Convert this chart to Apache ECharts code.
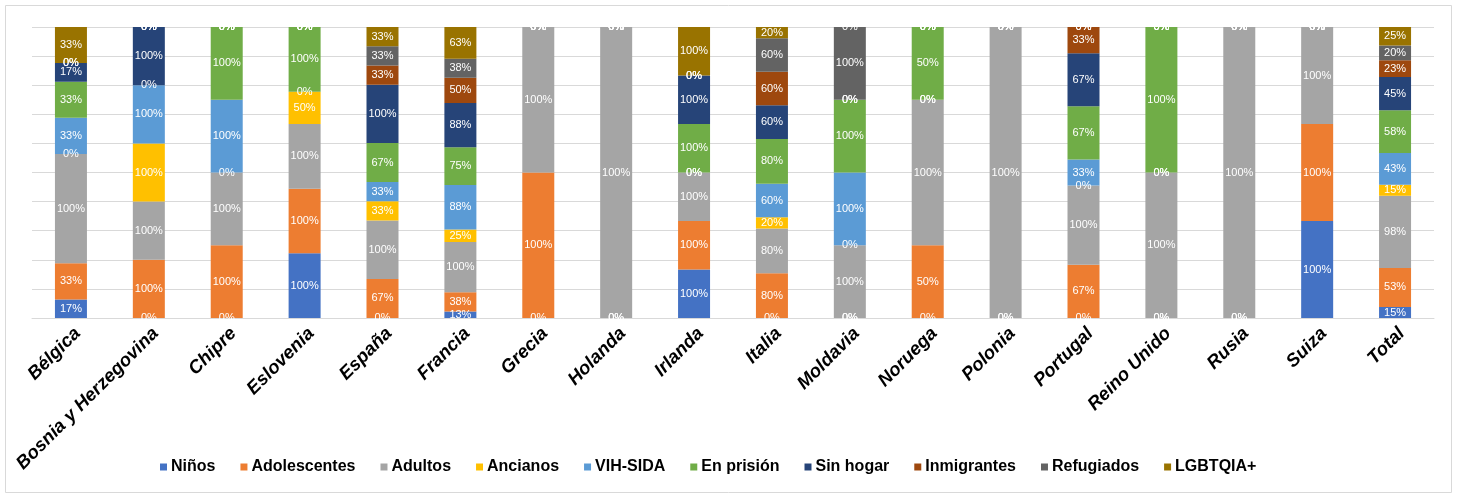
<!DOCTYPE html>
<html>
<head>
<meta charset="utf-8">
<script src="https://cdn.jsdelivr.net/npm/echarts@6/dist/echarts.min.js"></script>
<style>
  html, body { margin: 0; padding: 0; background: #fff; }
  #chart { width: 1461px; height: 498px; }
</style>
</head>
<body>
<div id="chart"></div>
<script>
// Países / categorías
const categories = ['Bélgica', 'Bosnia y Herzegovina', 'Chipre', 'Eslovenia', 'España', 'Francia',
  'Grecia', 'Holanda', 'Irlanda', 'Italia', 'Moldavia', 'Noruega', 'Polonia', 'Portugal',
  'Reino Unido', 'Rusia', 'Suiza', 'Total'];

// Porcentaje de cada grupo por país (valores de las etiquetas)
const ninos        = [17,   0,   0, 100,   0,  13,   0,   0, 100,   0,   0,   0,   0,   0,   0,   0, 100, 15];
const adolescentes = [33, 100, 100, 100,  67,  38, 100,   0, 100,  80,   0,  50,   0,  67,   0,   0, 100, 53];
const adultos      = [100,100, 100, 100, 100, 100, 100, 100, 100,  80, 100, 100, 100, 100, 100, 100, 100, 98];
const ancianos     = [0,  100,   0,  50,  33,  25,   0,   0,   0,  20,   0,   0,   0,   0,   0,   0,   0, 15];
const vihSida      = [33, 100, 100,   0,  33,  88,   0,   0,   0,  60, 100,   0,   0,  33,   0,   0,   0, 43];
const enPrision    = [33,   0, 100, 100,  67,  75,   0,   0, 100,  80, 100,  50,   0,  67, 100,   0,   0, 58];
const sinHogar     = [17, 100,   0,   0, 100,  88,   0,   0, 100,  60,   0,   0,   0,  67,   0,   0,   0, 45];
const inmigrantes  = [0,    0,   0,   0,  33,  50,   0,   0,   0,  60,   0,   0,   0,  33,   0,   0,   0, 23];
const refugiados   = [0,    0,   0,   0,  33,  38,   0,   0,   0,  60, 100,   0,   0,   0,   0,   0,   0, 20];
const lgbtqia      = [33,   0,   0,   0,  33,  63,   0,   0, 100,  20,   0,   0,   0,   0,   0,   0,   0, 25];

const seriesNames = ['Niños', 'Adolescentes', 'Adultos', 'Ancianos', 'VIH-SIDA', 'En prisión',
  'Sin hogar', 'Inmigrantes', 'Refugiados', 'LGBTQIA+'];
const seriesValues = [ninos, adolescentes, adultos, ancianos, vihSida, enPrision,
  sinHogar, inmigrantes, refugiados, lgbtqia];
const colors = ['#4472C4', '#ED7D31', '#A5A5A5', '#FFC000', '#5B9BD5', '#70AD47',
  '#264478', '#9E480E', '#636363', '#997300'];

// Columnas apiladas al 100 %: cada segmento es su parte de la suma del país
const totals = categories.map((_, i) => seriesValues.reduce((s, arr) => s + arr[i], 0));

const series = seriesNames.map((name, k) => ({
  name: name,
  type: 'bar',
  stack: 'total',
  barWidth: 32,
  itemStyle: { color: colors[k] },
  label: {
    show: true,
    position: 'inside',
    color: '#ffffff',
    fontFamily: 'Liberation Sans, Arial, sans-serif',
    fontSize: 11,
    formatter: p => p.data.raw + '%'
  },
  data: seriesValues[k].map((v, i) => ({ value: totals[i] ? v / totals[i] * 100 : 0, raw: v }))
}));

const chart = echarts.init(document.getElementById('chart'), null, { renderer: 'canvas' });
chart.setOption({
  animation: false,
  backgroundColor: '#ffffff',
  color: colors,
  graphic: [{
    type: 'rect',
    shape: { x: 5.5, y: 5.5, width: 1446, height: 487 },
    style: { fill: 'none', stroke: '#d9d9d9', lineWidth: 1 },
    silent: true
  }],
  grid: { left: 32, right: 27, top: 27, bottom: 180, containLabel: false },
  legend: {
    left: 155,
    top: 454,
    itemWidth: 7,
    itemHeight: 7,
    itemGap: 25,
    icon: 'rect',
    textStyle: {
      fontFamily: 'Liberation Sans, Arial, sans-serif',
      fontSize: 16,
      fontWeight: 'bold',
      color: '#000000',
      padding: [0, 0, 0, -1]
    },
    data: seriesNames
  },
  xAxis: {
    type: 'category',
    data: categories,
    axisLine: { lineStyle: { color: '#d9d9d9', width: 1 } },
    axisTick: { show: false },
    axisLabel: {
      interval: 0,
      rotate: 45,
      margin: 6,
      align: 'right',
      verticalAlign: 'top',
      fontFamily: 'Liberation Sans, Arial, sans-serif',
      fontSize: 18.5,
      fontWeight: 'bold',
      fontStyle: 'italic',
      color: '#000000'
    }
  },
  yAxis: {
    type: 'value',
    min: 0,
    max: 100,
    interval: 10,
    axisLabel: { show: false },
    axisLine: { show: false },
    axisTick: { show: false },
    splitLine: { lineStyle: { color: '#d9d9d9', width: 1 } }
  },
  series: series
});
</script>
</body>
</html>
